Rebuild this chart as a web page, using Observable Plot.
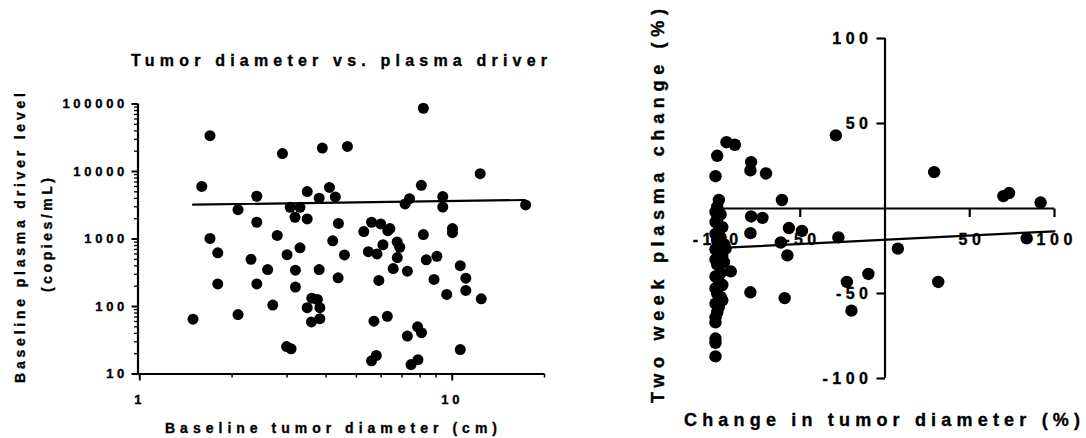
<!DOCTYPE html>
<html><head><meta charset="utf-8">
<script src="https://cdn.jsdelivr.net/npm/d3@7"></script>
<script src="https://cdn.jsdelivr.net/npm/@observablehq/plot@0.6"></script>
<style>
body{margin:0;background:#fff;}
#wrap{position:relative;width:1086px;height:438px;overflow:hidden;background:#fff;}
#wrap svg{position:absolute;left:0;top:0;}
#wrap svg text{font-weight:bold;stroke:black;stroke-width:0.35px;}
</style></head><body><div id="wrap"></div>
<script>
const W = 1086, H = 438;
const FONT = '"Liberation Sans", Arial, Helvetica, sans-serif';

// ---- Left panel: baseline tumor diameter (cm) vs plasma driver level (copies/mL)
const leftX = [1.50,1.60,1.70,1.70,1.80,1.80,2.09,2.09,2.30,2.40,2.40,2.40,2.60,2.70,2.79,2.90,3.00,2.99,3.09,3.07,
  3.18,3.30,3.19,3.19,3.30,3.48,3.48,3.48,3.60,3.59,3.75,3.82,3.82,3.80,3.80,3.89,4.10,4.20,4.28,4.38,
  4.37,4.58,4.68,5.28,5.46,5.59,5.59,5.69,5.79,5.82,5.90,5.98,6.08,6.28,6.30,6.40,6.56,6.75,6.76,6.88,
  7.16,7.28,7.28,7.40,7.48,7.87,7.85,8.08,8.07,8.19,8.19,8.37,8.86,9.05,9.45,9.45,9.73,10.15,10.15,10.75,
  10.75,11.2,11.2,12.45,12.55,17.4];
const leftY = [65,6000,34000,1020,625,216,2720,76,500,4300,1770,216,353,105,1130,18400,585,25.5,23.6,2950,
  2100,2950,345,194,740,1980,5050,96,133,59,127,96,66,352,4030,22200,5800,940,4200,1700,
  266,580,23500,1290,648,1770,15.7,60.5,18.8,602,243,1670,822,71.5,1330,1430,365,905,530,755,
  3310,334,36.5,3950,13.8,16.3,50,41,6250,86500,1165,491,252,553,4250,2980,151,1430,1240,402,
  23,263,173,9300,130,3200];
const leftFitX = [1.5, 17.3];
const leftFitY = [3230, 3780];
const leftXMajor = [1, 10];
const leftXMinor = [2,3,4,5,6,7,8,9,20];
const leftYMajor = [10,100,1000,10000,100000];
const leftYMinor = [10,100,1000,10000].flatMap(p => [2,3,4,5,6,7,8,9].map(k => k*p));

// ---- Right panel: change in tumor diameter (%) vs two week plasma change (%)
const rightX = [-99,-100,-98,-99,-100,-97,-99,-100,-96,-98,-100,-97,-99,-95,-94,-100,-98,-96,-100,-95,
  -99,-91,-97,-100,-98,-96,-100,-99,-97,-96,-100,-98,-99,-100,-100,-100,-100,-100,
  -93.5,-88.6,-79,-79.4,-70.2,-60.8,-79,-72.3,-79.4,-56.7,-49,-61.5,-57.6,-79.4,-59.2,
  -29,-27.5,-22.5,-9.8,-19.8,7.6,29,31.4,69.8,73.2,91.8,83.6];
const rightY = [31,19,5,1,-2,-3.5,-6,-8,-11,-13,-15,-17,-19,-21,-23.6,-24,-26,-28,-30,-31.6,
  -33,-37,-38,-40,-43,-45,-47,-50,-52,-54,-56,-58,-61,-64,-67,-76.5,-79,-87,
  39,37.5,27.3,22.4,20.6,5,-4.7,-5.5,-14.5,-11.5,-13.2,-20,-27.6,-49.3,-52.7,
  43,-17,-43.2,-38.5,-60.1,-23.6,21.4,-43.2,7.3,9.1,3.5,-17.6];
const rightFitX = [-97, 100];
const rightFitY = [-23.2, -13.4];
const rightXTicks = [-100,-50,50,100];
const rightYTicks = [-100,-50,50,100];

const leftData = leftX.map((x,i) => ({x, y: leftY[i]}));
const leftFit = leftFitX.map((x,i) => ({x, y: leftFitY[i]}));
const rightData = rightX.map((x,i) => ({x, y: rightY[i]}));
const rightFit = rightFitX.map((x,i) => ({x, y: rightFitY[i]}));

const left = Plot.plot({
  width: W, height: H,
  marginLeft: 137.5, marginRight: W - 544, marginTop: 103.5, marginBottom: H - 373.5,
  style: {background: "transparent", fontFamily: FONT, fontWeight: "bold", letterSpacing: "3.7px", overflow: "visible"},
  x: {type: "log", domain: [1, 20]},
  y: {type: "log", domain: [10, 100000]},
  marks: [
    Plot.axisY({ticks: leftYMinor, tickSize: 3.5, tickFormat: () => "", label: null, strokeWidth: 1.3}),
    Plot.axisY({ticks: leftYMajor, tickSize: 6, tickPadding: 4, tickFormat: d => String(d), label: null,
      strokeWidth: 2, fontSize: 13, fontWeight: "bold", fill: "black"}),
    Plot.axisX({ticks: leftXMinor, tickSize: 4, tickFormat: () => "", label: null, strokeWidth: 1.5}),
    Plot.axisX({ticks: leftXMajor, tickSize: 7, tickPadding: 14, tickFormat: d => String(d), label: null,
      strokeWidth: 2, fontSize: 13, fontWeight: "bold", fill: "black", dx: 1.8}),
    Plot.ruleX([1], {strokeWidth: 2.2}),
    Plot.ruleY([10], {strokeWidth: 2.2}),
    Plot.line(leftFit, {x: "x", y: "y", strokeWidth: 2.2, stroke: "black"}),
    Plot.dot(leftData, {x: "x", y: "y", r: 5.5, fill: "black"})
  ]
});

const tickDown = {draw(ctx) { ctx.moveTo(0, 0); ctx.lineTo(0, 8.5); }};
const tickLeft = {draw(ctx) { ctx.moveTo(0, 0); ctx.lineTo(-8.5, 0); }};

const right = Plot.plot({
  width: W, height: H,
  marginLeft: 715, marginRight: W - 1054, marginTop: 38, marginBottom: H - 378,
  style: {background: "transparent", fontFamily: FONT, fontWeight: "bold", letterSpacing: "4.5px", overflow: "visible"},
  x: {domain: [-100, 100], axis: null},
  y: {domain: [-100, 100], axis: null},
  marks: [
    Plot.ruleY([0], {strokeWidth: 2.2}),
    Plot.ruleX([0], {strokeWidth: 2.2}),
    Plot.dot(rightXTicks, {x: d => d, y: () => 0, symbol: tickDown, stroke: "black", strokeWidth: 2.2, fill: "none"}),
    Plot.dot(rightYTicks, {x: () => 0, y: d => d, symbol: tickLeft, stroke: "black", strokeWidth: 2.2, fill: "none"}),
    Plot.text(rightXTicks, {x: d => d, y: () => 0, text: d => String(d), dy: 31.5, dx: 2.2,
      fontSize: 16, fontWeight: "bold", fill: "black"}),
    Plot.text(rightYTicks, {x: () => 0, y: d => d, text: d => String(d), dx: -12.5, textAnchor: "end",
      fontSize: 16, fontWeight: "bold", fill: "black"}),
    Plot.line(rightFit, {x: "x", y: "y", strokeWidth: 2.2, stroke: "black"}),
    Plot.dot(rightData, {x: "x", y: "y", r: 6.2, fill: "black"})
  ]
});

function addLabel(svg, o) {
  const t = d3.select(svg).append("text")
    .attr("text-anchor", "middle")
    .attr("font-family", FONT)
    .attr("font-weight", "bold")
    .attr("font-size", o.size)
    .attr("fill", "black")
    .style("letter-spacing", "0px")
    .attr("textLength", o.len)
    .attr("lengthAdjust", "spacing")
    .text(o.text);
  if (o.rotate) t.attr("transform", `translate(${o.x},${o.y}) rotate(-90)`);
  else t.attr("x", o.x).attr("y", o.y);
}

addLabel(left, {text: "Tumor diameter vs. plasma driver", x: 339, y: 66, size: 16, len: 416});
addLabel(left, {text: "Baseline tumor diameter (cm)", x: 331, y: 433, size: 14, len: 332});
addLabel(left, {text: "Baseline plasma driver level", x: 25, y: 238, size: 14, len: 290, rotate: true});
addLabel(left, {text: "(copies/mL)", x: 52, y: 235, size: 14, len: 114, rotate: true});
addLabel(right, {text: "Change in tumor diameter (%)", x: 882, y: 426, size: 18, len: 396});
addLabel(right, {text: "Two week plasma change (%)", x: 664, y: 206, size: 18, len: 394, rotate: true});

const wrap = document.getElementById("wrap");
wrap.appendChild(left);
wrap.appendChild(right);
</script>
</body></html>
